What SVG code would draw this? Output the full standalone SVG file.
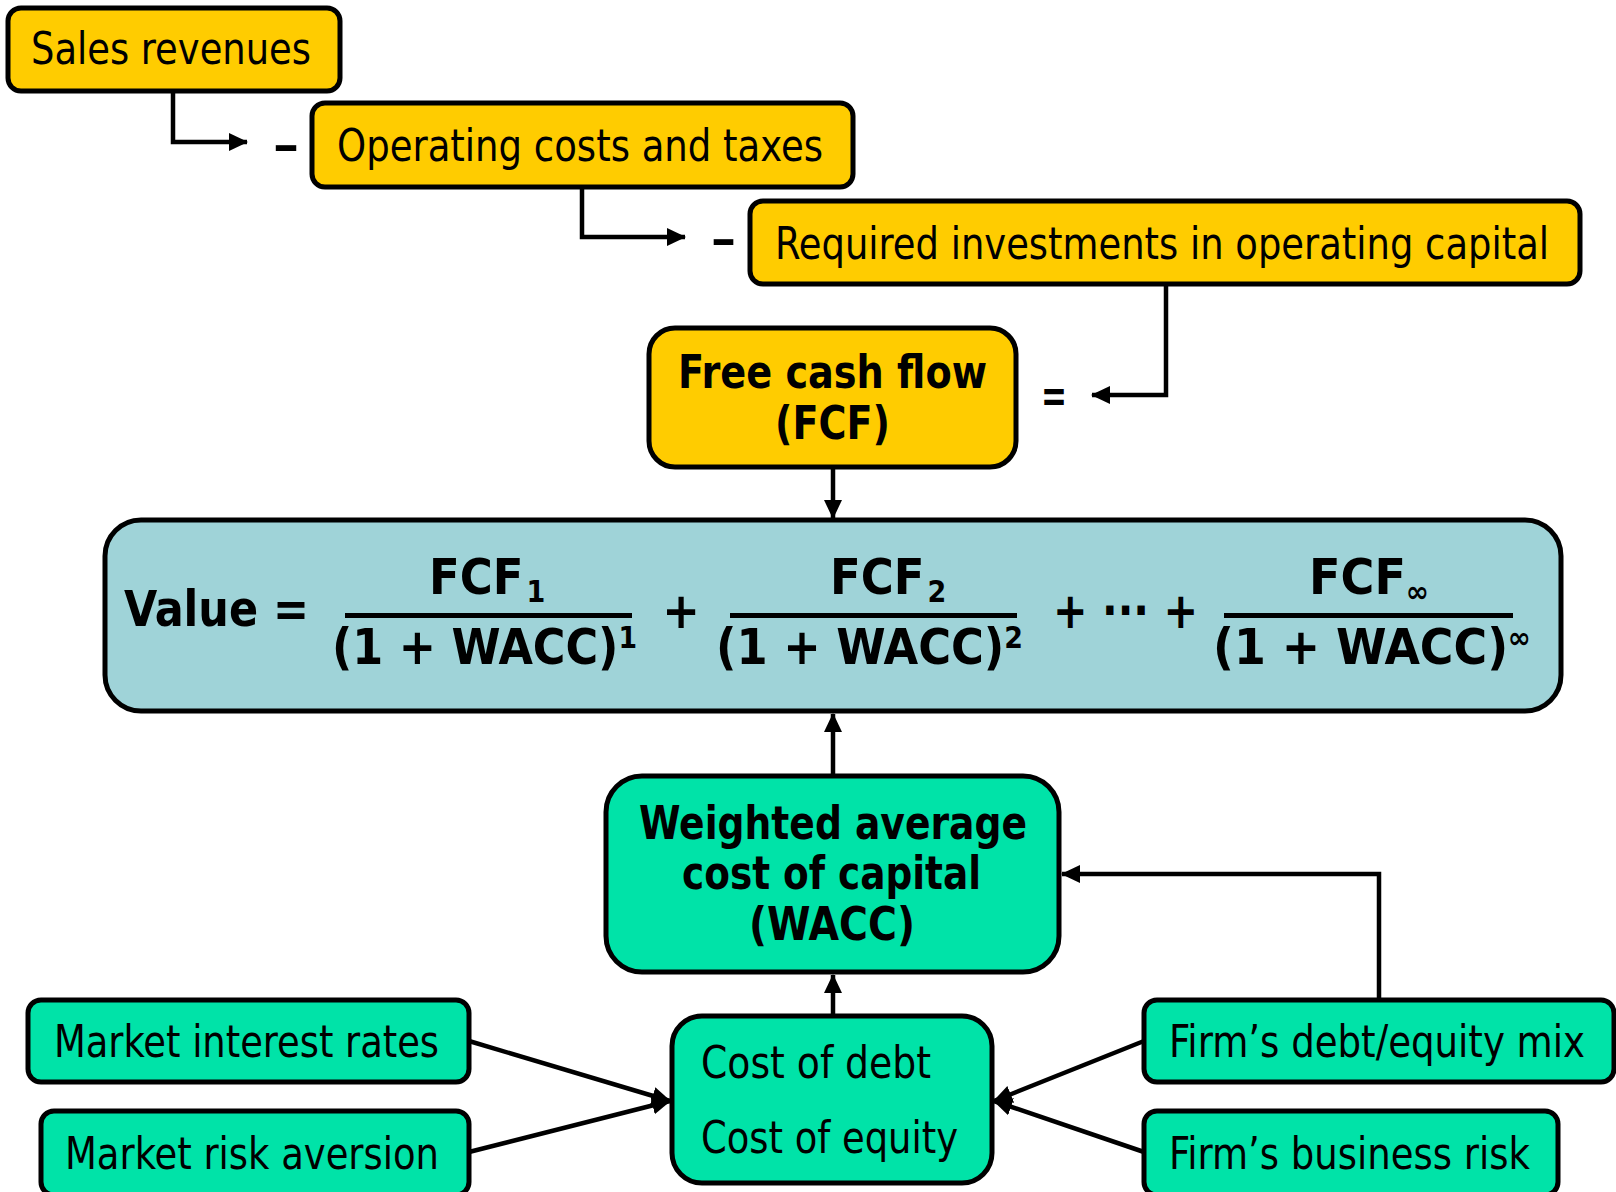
<svg xmlns="http://www.w3.org/2000/svg" width="1616" height="1192" viewBox="0 0 1616 1192">
<defs>
<marker id="ah" markerUnits="userSpaceOnUse" markerWidth="20" markerHeight="20" refX="18" refY="10" orient="auto">
<path d="M0,1 L19,10 L0,19 z" fill="#000"/>
</marker>
</defs>
<style>
.y{fill:#FFCC00;stroke:#000;stroke-width:5}
.b{fill:#9FD3D8;stroke:#000;stroke-width:5}
.g{fill:#00E3A8;stroke:#000;stroke-width:5}
.t{font-family:"DejaVu Sans Condensed","DejaVu Sans",Verdana,sans-serif;font-size:44px;fill:#000}
.tb{font-family:"DejaVu Sans Condensed","DejaVu Sans",Verdana,sans-serif;font-size:46px;font-weight:bold;fill:#000}
.f{font-family:"DejaVu Sans Condensed","DejaVu Sans",Verdana,sans-serif;font-size:50px;font-weight:bold;fill:#000}
.s{font-size:30px}
.c{fill:none;stroke:#000;stroke-width:4.5}
</style>
<g id="connectors">
<path class="c" d="M173,91 V142 H247" marker-end="url(#ah)"/>
<path class="c" d="M582,187 V237 H685" marker-end="url(#ah)"/>
<path class="c" d="M1166,284 V395 H1092" marker-end="url(#ah)"/>
<path class="c" d="M833,467 V518" marker-end="url(#ah)"/>
<path class="c" d="M833,776 V714" marker-end="url(#ah)"/>
<path class="c" d="M833,1016 V975" marker-end="url(#ah)"/>
<path class="c" d="M1379,1000 V874 H1062" marker-end="url(#ah)"/>
<path class="c" d="M469,1041 L670,1101" marker-end="url(#ah)"/>
<path class="c" d="M469,1152 L670,1101" marker-end="url(#ah)"/>
<path class="c" d="M1144,1041 L994,1101" marker-end="url(#ah)"/>
<path class="c" d="M1144,1152 L994,1101" marker-end="url(#ah)"/>
<text class="tb" x="273" y="161" textLength="26" lengthAdjust="spacingAndGlyphs">–</text>
<text class="tb" x="711" y="255" textLength="25" lengthAdjust="spacingAndGlyphs">–</text>
<text class="tb" x="1041" y="412" textLength="26" lengthAdjust="spacingAndGlyphs">=</text>
</g>
<g id="sales">
<rect class="y" x="8" y="8" width="332" height="83" rx="13"/>
<text class="t" x="31" y="64" textLength="280" lengthAdjust="spacingAndGlyphs">Sales revenues</text>
</g>
<g id="opcosts">
<rect class="y" x="312" y="103" width="541" height="84" rx="13"/>
<text class="t" x="337" y="161" textLength="486" lengthAdjust="spacingAndGlyphs">Operating costs and taxes</text>
</g>
<g id="reqinv">
<rect class="y" x="750" y="201" width="830" height="83" rx="13"/>
<text class="t" x="775" y="259" textLength="774" lengthAdjust="spacingAndGlyphs">Required investments in operating capital</text>
</g>
<g id="fcf">
<rect class="y" x="649" y="328" width="367" height="139" rx="26"/>
<text class="tb" x="678" y="388" textLength="309" lengthAdjust="spacingAndGlyphs">Free cash flow</text>
<text class="tb" x="775" y="439" textLength="115" lengthAdjust="spacingAndGlyphs">(FCF)</text>
</g>
<g id="value">
<rect class="b" x="105" y="520" width="1456" height="191" rx="36"/>
<text class="f" x="124" y="626" textLength="185" lengthAdjust="spacingAndGlyphs">Value =</text>
<text class="f" x="429" y="594">FCF<tspan class="s" dx="3" dy="8">1</tspan></text>
<rect x="345" y="613" width="287" height="5" fill="#000"/>
<text class="f" x="332" y="664" textLength="305" lengthAdjust="spacingAndGlyphs">(1 + WACC)<tspan class="s" dy="-16">1</tspan></text>
<text class="f" x="681" y="628" text-anchor="middle">+</text>
<text class="f" x="830" y="594">FCF<tspan class="s" dx="3" dy="8">2</tspan></text>
<rect x="730" y="613" width="287" height="5" fill="#000"/>
<text class="f" x="716" y="664" textLength="307" lengthAdjust="spacingAndGlyphs">(1 + WACC)<tspan class="s" dy="-16">2</tspan></text>
<text class="f" x="1053" y="628" textLength="145" lengthAdjust="spacingAndGlyphs">+ ··· +</text>
<text class="f" x="1309" y="594" textLength="120" lengthAdjust="spacingAndGlyphs">FCF<tspan class="s" dy="8">∞</tspan></text>
<rect x="1224" y="613" width="289" height="5" fill="#000"/>
<text class="f" x="1213" y="664" textLength="318" lengthAdjust="spacingAndGlyphs">(1 + WACC)<tspan class="s" dy="-16">∞</tspan></text>
</g>
<g id="wacc">
<rect class="g" x="606" y="776" width="453" height="196" rx="36"/>
<text class="tb" x="639" y="839" textLength="388" lengthAdjust="spacingAndGlyphs">Weighted average</text>
<text class="tb" x="682" y="889" textLength="299" lengthAdjust="spacingAndGlyphs">cost of capital</text>
<text class="tb" x="749" y="940" textLength="166" lengthAdjust="spacingAndGlyphs">(WACC)</text>
</g>
<g id="costs">
<rect class="g" x="672" y="1016" width="320" height="167" rx="30"/>
<text class="t" x="701" y="1078" textLength="230" lengthAdjust="spacingAndGlyphs">Cost of debt</text>
<text class="t" x="701" y="1153" textLength="257" lengthAdjust="spacingAndGlyphs">Cost of equity</text>
</g>
<g id="mir">
<rect class="g" x="28" y="1000" width="441" height="82" rx="13"/>
<text class="t" x="54" y="1057" textLength="385" lengthAdjust="spacingAndGlyphs">Market interest rates</text>
</g>
<g id="mra">
<rect class="g" x="41" y="1111" width="428" height="84" rx="13"/>
<text class="t" x="65" y="1169" textLength="374" lengthAdjust="spacingAndGlyphs">Market risk aversion</text>
</g>
<g id="demix">
<rect class="g" x="1144" y="1000" width="470" height="82" rx="13"/>
<text class="t" x="1169" y="1057" textLength="416" lengthAdjust="spacingAndGlyphs">Firm’s debt/equity mix</text>
</g>
<g id="bizrisk">
<rect class="g" x="1144" y="1111" width="414" height="84" rx="13"/>
<text class="t" x="1169" y="1169" textLength="361" lengthAdjust="spacingAndGlyphs">Firm’s business risk</text>
</g>
</svg>
